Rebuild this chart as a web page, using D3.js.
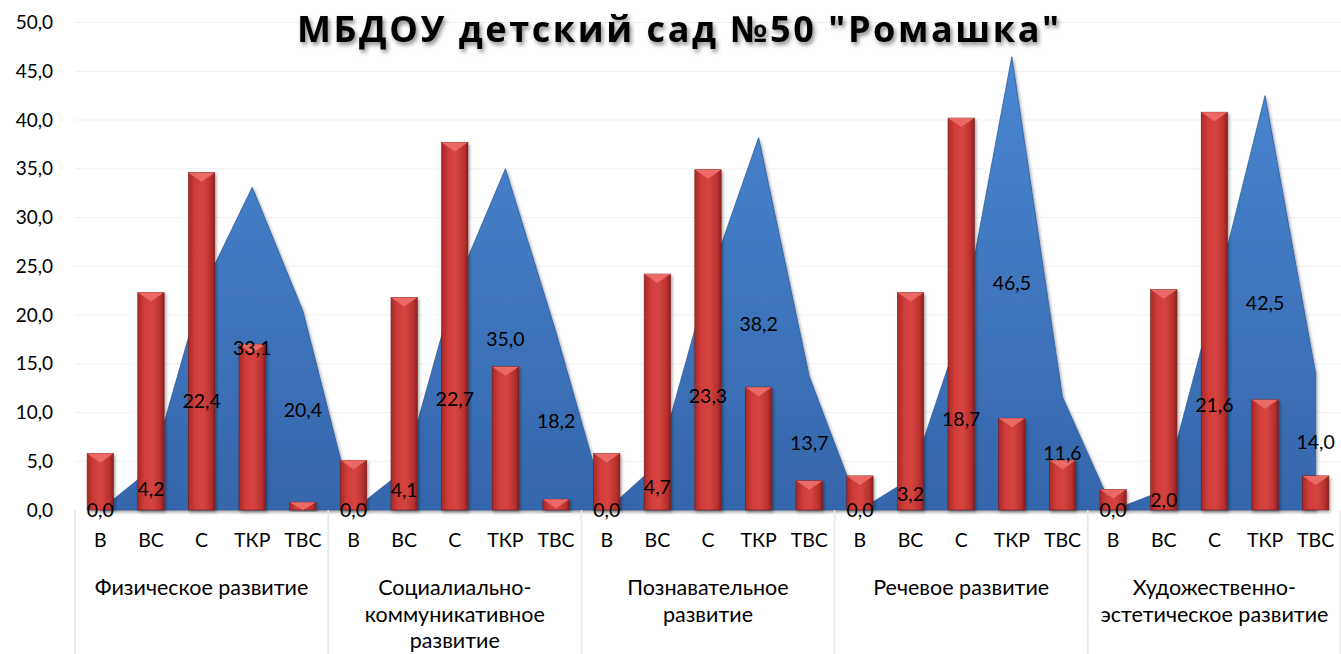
<!DOCTYPE html>
<html>
<head>
<meta charset="utf-8">
<script src="https://cdn.jsdelivr.net/npm/d3@7"></script>
<style>
  html, body { margin: 0; padding: 0; background: #fff; }
  svg { display: block; font-family: Lato, "Noto Sans", sans-serif; }
</style>
</head>
<body>
<svg width="1341" height="654"></svg>
<script>
const chartTitle = 'МБДОУ детский сад №50 "Ромашка"';
const groupLines = [
    ["Физическое развитие"],
    ["Социалиально-", "коммуникативное", "развитие"],
    ["Познавательное", "развитие"],
    ["Речевое развитие"],
    ["Художественно-", "эстетическое развитие"]
];
const subcats = ["В", "ВС", "С", "ТКР", "ТВС"];
const yTicks = [0, 5, 10, 15, 20, 25, 30, 35, 40, 45, 50];

// blue area series (labelled)
const areaValues = [
    0.0, 4.2, 22.4, 33.1, 20.4,
    0.0, 4.1, 22.7, 35.0, 18.2,
    0.0, 4.7, 23.3, 38.2, 13.7,
    0.0, 3.2, 18.7, 46.5, 11.6,
    0.0, 2.0, 21.6, 42.5, 14.0
];
// red bar series (no labels)
const barValues = [
    5.8, 22.3, 34.6, 17.0, 0.8,
    5.1, 21.8, 37.7, 14.7, 1.1,
    5.8, 24.2, 34.9, 12.6, 3.0,
    3.5, 22.3, 40.2, 9.4, 5.1,
    2.1, 22.6, 40.8, 11.3, 3.5
];

const fmt = v => v.toFixed(1).replace(".", ",");

function buildRows() {
    let rows = [];
    groupLines.forEach((g, gi) => {
        subcats.forEach((s, si) => {
            const i = gi * subcats.length + si;
            rows.push({ key: gi + "_" + s, group: gi, sub: s, area: areaValues[i], bar: barValues[i] });
        });
    });
    return rows;
}

function drawChart() {
    const rows = buildRows();
    const svg = d3.select("svg");

    const attr_area = { left: 75, right: 1341, top: 22.5, bottom: 510 };

    const scX = d3.scaleBand()
        .domain(rows.map(d => d.key))
        .range([attr_area.left, attr_area.right])
        .padding(0);

    const scY = d3.scaleLinear()
        .domain([0, 50])
        .range([attr_area.bottom, attr_area.top]);

    const defs = svg.append("defs");

    const barGrad = defs.append("linearGradient").attr("id", "barGrad")
        .attr("x1", "0%").attr("x2", "100%").attr("y1", "0%").attr("y2", "0%");
    barGrad.append("stop").attr("offset", "0%").attr("stop-color", "#a82a28");
    barGrad.append("stop").attr("offset", "25%").attr("stop-color", "#cf3c39");
    barGrad.append("stop").attr("offset", "55%").attr("stop-color", "#d6443f");
    barGrad.append("stop").attr("offset", "85%").attr("stop-color", "#b8322f");
    barGrad.append("stop").attr("offset", "100%").attr("stop-color", "#8e1f1d");

    const areaGrad = defs.append("linearGradient").attr("id", "areaGrad")
        .attr("x1", "0%").attr("x2", "0%").attr("y1", "0%").attr("y2", "100%");
    areaGrad.append("stop").attr("offset", "0%").attr("stop-color", "#4a87d2");
    areaGrad.append("stop").attr("offset", "100%").attr("stop-color", "#3566ab");

    const shadow = defs.append("filter").attr("id", "shadow")
        .attr("x", "-10%").attr("y", "-10%").attr("width", "130%").attr("height", "130%");
    shadow.append("feDropShadow").attr("dx", 1.5).attr("dy", 2).attr("stdDeviation", 1.5)
        .attr("flood-color", "#000").attr("flood-opacity", 0.35);

    const titleShadow = defs.append("filter").attr("id", "titleShadow")
        .attr("x", "-5%").attr("y", "-30%").attr("width", "110%").attr("height", "170%");
    titleShadow.append("feDropShadow").attr("dx", 2).attr("dy", 3).attr("stdDeviation", 2)
        .attr("flood-color", "#000").attr("flood-opacity", 0.45);

    // gridlines
    svg.append("g")
        .selectAll("line")
        .data(yTicks.filter(t => t > 0))
        .enter()
        .append("line")
        .attr("x1", attr_area.left)
        .attr("x2", attr_area.right)
        .attr("y1", d => scY(d))
        .attr("y2", d => scY(d))
        .attr("stroke", "#f0f0f0")
        .attr("stroke-width", 1);

    // y axis labels
    const axisY = d3.axisLeft(scY).tickValues(yTicks).tickFormat(fmt).tickSize(0).tickPadding(0);
    const gY = svg.append("g")
        .attr("transform", "translate(53,0)")
        .call(axisY);
    gY.select(".domain").remove();
    gY.selectAll("text")
        .attr("font-family", "Lato, 'Noto Sans', sans-serif")
        .attr("font-size", 19)
        .attr("fill", "#000");

    // area series
    const area = d3.area()
        .x(d => scX(d.key) + scX.bandwidth() / 2)
        .y0(scY(0))
        .y1(d => scY(d.area));

    svg.append("path")
        .datum(rows)
        .attr("d", area)
        .attr("fill", "url(#areaGrad)")
        .attr("stroke", "#2f5c98")
        .attr("stroke-width", 0.8)
        .attr("filter", "url(#shadow)");

    // bars
    const barW = scX.bandwidth() * 0.52;
    const bars = svg.append("g").selectAll("g")
        .data(rows)
        .enter()
        .append("g")
        .attr("filter", "url(#shadow)");

    bars.append("rect")
        .attr("x", d => scX(d.key) + (scX.bandwidth() - barW) / 2)
        .attr("y", d => scY(d.bar))
        .attr("width", barW)
        .attr("height", d => scY(0) - scY(d.bar))
        .attr("fill", "url(#barGrad)")
        .attr("stroke", "#7a1a18")
        .attr("stroke-width", 0.6);

    bars.append("path")
        .attr("d", d => {
            const x0 = scX(d.key) + (scX.bandwidth() - barW) / 2;
            const y0 = scY(d.bar);
            const h = Math.min(9, scY(0) - y0);
            return `M${x0},${y0}L${x0 + barW},${y0}L${x0 + barW / 2},${y0 + h}Z`;
        })
        .attr("fill", "#ee6f6a")
        .attr("opacity", 0.9);

    // x axis line
    svg.append("line")
        .attr("x1", attr_area.left)
        .attr("x2", attr_area.right)
        .attr("y1", scY(0))
        .attr("y2", scY(0))
        .attr("stroke", "#d4d4d4")
        .attr("stroke-width", 1.5)
        .attr("filter", "url(#shadow)");

    // group separators
    const sepX = d3.range(groupLines.length + 1).map(i =>
        i < groupLines.length ? scX(i + "_" + subcats[0]) : attr_area.right - 0.5);
    svg.append("g")
        .selectAll("line")
        .data(sepX)
        .enter()
        .append("line")
        .attr("x1", d => d)
        .attr("x2", d => d)
        .attr("y1", scY(0))
        .attr("y2", 654)
        .attr("stroke", "#e6e6e6")
        .attr("stroke-width", 1.5);

    // subcategory labels
    svg.append("g")
        .selectAll("text")
        .data(rows)
        .enter()
        .append("text")
        .attr("x", d => scX(d.key) + scX.bandwidth() / 2)
        .attr("y", 547)
        .attr("text-anchor", "middle")
        .attr("font-size", 19.5)
        .attr("fill", "#000")
        .text(d => d.sub);

    // group labels
    groupLines.forEach((lines, gi) => {
        const x0 = scX(gi + "_" + subcats[0]);
        const x1 = scX(gi + "_" + subcats[subcats.length - 1]) + scX.bandwidth();
        const t = svg.append("text")
            .attr("x", (x0 + x1) / 2)
            .attr("y", 594)
            .attr("text-anchor", "middle")
            .attr("font-size", 21.5)
            .attr("fill", "#000");
        lines.forEach((ln, li) => {
            t.append("tspan")
                .attr("x", (x0 + x1) / 2)
                .attr("y", 595 + li * 26.5)
                .text(ln);
        });
    });

    // area data labels (centered at half height, as Excel places them)
    svg.append("g")
        .selectAll("text")
        .data(rows)
        .enter()
        .append("text")
        .attr("x", d => scX(d.key) + scX.bandwidth() / 2)
        .attr("y", d => scY(d.area / 2))
        .attr("dy", "0.35em")
        .attr("text-anchor", "middle")
        .attr("font-size", 19.5)
        .attr("fill", "#000")
        .text(d => fmt(d.area));

    // title
    svg.append("text")
        .attr("x", 678)
        .attr("y", 42)
        .attr("text-anchor", "middle")
        .attr("font-family", "'Open Sans', 'Noto Sans', sans-serif")
        .attr("font-weight", "bold")
        .attr("font-size", 36)
        .attr("textLength", 762)
        .attr("lengthAdjust", "spacing")
        .attr("fill", "#000")
        .attr("filter", "url(#titleShadow)")
        .text(chartTitle);
}

drawChart();
</script>
</body>
</html>
